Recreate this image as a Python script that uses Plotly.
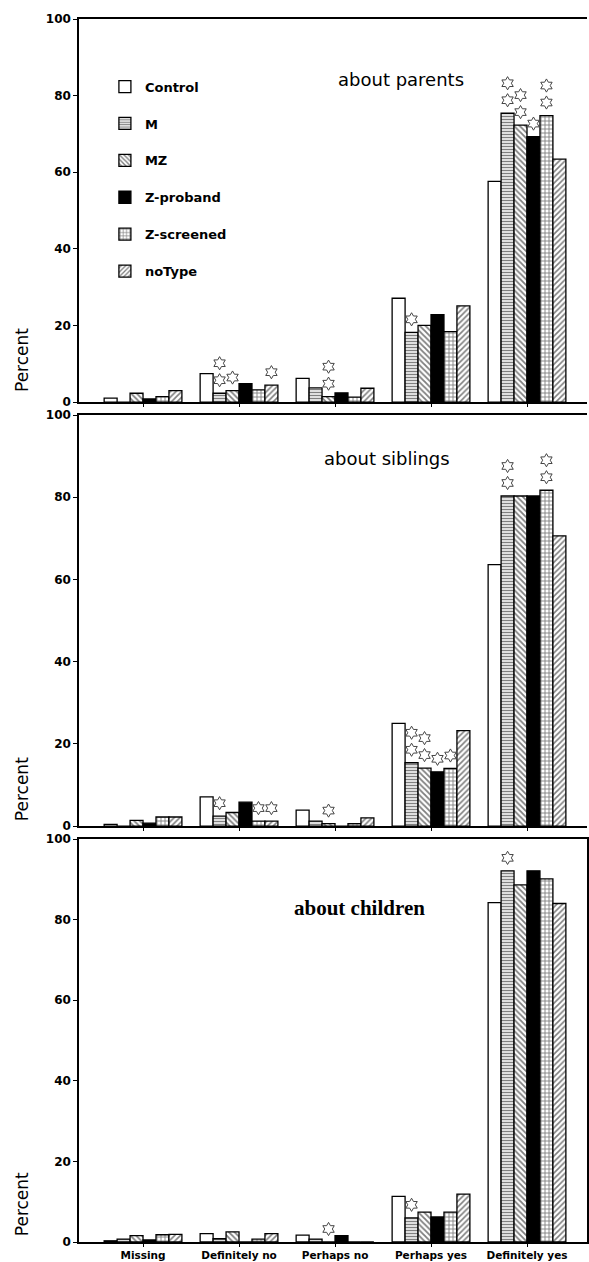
import plotly.graph_objects as go

# ---------------- data ----------------
categories = ["Missing", "Definitely no", "Perhaps no", "Perhaps yes", "Definitely yes"]
series_names = ["Control", "M", "MZ", "Z-proband", "Z-screened", "noType"]
y_tick_vals = [0, 20, 40, 60, 80, 100]
panel_titles = ["about parents", "about siblings", "about children"]

# about parents (percent)
parents_control = [1.0, 7.4, 6.2, 27.1, 57.6]
parents_m = [0.0, 2.3, 3.7, 18.2, 75.4]
parents_mz = [2.3, 3.0, 1.4, 20.0, 72.3]
parents_zproband = [0.8, 4.8, 2.4, 22.8, 69.3]
parents_zscreened = [1.4, 3.2, 1.3, 18.4, 74.8]
parents_notype = [3.0, 4.4, 3.6, 25.1, 63.4]

# about siblings (percent)
siblings_control = [0.4, 7.1, 3.9, 25.0, 63.6]
siblings_m = [0.0, 2.4, 1.2, 15.4, 80.3]
siblings_mz = [1.4, 3.3, 0.6, 14.1, 80.3]
siblings_zproband = [0.7, 5.8, 0.0, 13.2, 80.3]
siblings_zscreened = [2.2, 1.2, 0.6, 14.0, 81.7]
siblings_notype = [2.2, 1.2, 2.0, 23.2, 70.6]

# about children (percent)
children_control = [0.3, 2.1, 1.7, 11.3, 84.2]
children_m = [0.7, 0.8, 0.7, 6.0, 92.1]
children_mz = [1.6, 2.5, 0.0, 7.4, 88.6]
children_zproband = [0.5, 0.0, 1.6, 6.2, 92.1]
children_zscreened = [1.8, 0.7, 0.0, 7.4, 90.1]
children_notype = [1.9, 2.1, 0.0, 11.9, 84.0]

# number of significance stars above each bar (series order x category)
parents_stars = [[0, 0, 0, 0, 0], [0, 2, 0, 1, 2], [0, 1, 2, 0, 2],
                 [0, 0, 0, 0, 1], [0, 0, 0, 0, 2], [0, 1, 0, 0, 0]]
siblings_stars = [[0, 0, 0, 0, 0], [0, 1, 0, 2, 2], [0, 0, 1, 2, 0],
                  [0, 0, 0, 1, 0], [0, 1, 0, 1, 2], [0, 1, 0, 0, 0]]
children_stars = [[0, 0, 0, 0, 0], [0, 0, 0, 1, 1], [0, 0, 1, 0, 0],
                  [0, 0, 0, 0, 0], [0, 0, 0, 0, 0], [0, 0, 0, 0, 0]]

panels = [
    [parents_control, parents_m, parents_mz, parents_zproband, parents_zscreened, parents_notype],
    [siblings_control, siblings_m, siblings_mz, siblings_zproband, siblings_zscreened, siblings_notype],
    [children_control, children_m, children_mz, children_zproband, children_zscreened, children_notype],
]
panel_stars = [parents_stars, siblings_stars, children_stars]

# ---------------- styling ----------------
SANS = "DejaVu Sans, Liberation Sans, Arial, sans-serif"
SERIF = "Liberation Serif, Times New Roman, serif"
W, H = 589, 1262
M_L, M_R, M_T, M_B = 79, 2, 19, 20
PLOT_H = H - M_T - M_B
domains = [[0.6868, 1.0], [0.3401, 0.6762], [0.0, 0.3295]]
BARGAP = 0.19

styles = [
    dict(color="white", marker_pattern=None),
    dict(color="white", marker_pattern=dict(shape="-", fgcolor="black", bgcolor="white", size=3, solidity=0.5)),
    dict(color="white", marker_pattern=dict(shape="\\", fgcolor="black", bgcolor="white", size=4, solidity=0.45)),
    dict(color="black", marker_pattern=None),
    dict(color="white", marker_pattern=dict(shape="+", fgcolor="black", bgcolor="white", size=4, solidity=0.4)),
    dict(color="white", marker_pattern=dict(shape="/", fgcolor="black", bgcolor="white", size=4, solidity=0.4)),
]

fig = go.Figure()
xidx = list(range(len(categories)))
n_series = len(series_names)
bar_w = (1 - BARGAP) / n_series

for p, data in enumerate(panels):
    xa = "x" if p == 0 else f"x{p + 1}"
    ya = "y" if p == 0 else f"y{p + 1}"
    for s, name in enumerate(series_names):
        st = styles[s]
        marker = dict(color=st["color"], line=dict(color="black", width=1.3))
        if st["marker_pattern"] is not None:
            marker["pattern"] = st["marker_pattern"]
        fig.add_trace(go.Bar(
            x=xidx, y=data[s], name=name, marker=marker,
            xaxis=xa, yaxis=ya, legendgroup=name, showlegend=(p == 0),
            hovertext=[f"{name} – {c}" for c in categories],
        ))
    # significance stars, stacked above their bars
    ppu = (domains[p][1] - domains[p][0]) * PLOT_H / 100.0
    sx, sy = [], []
    for s in range(n_series):
        for c in range(len(categories)):
            for k in range(panel_stars[p][s][c]):
                sx.append(c - (1 - BARGAP) / 2 + bar_w * (s + 0.5))
                sy.append(data[s][c] + (13 + 17 * k) / ppu)
    if sx:
        fig.add_trace(go.Scatter(
            x=sx, y=sy, mode="markers", xaxis=xa, yaxis=ya, showlegend=False,
            hoverinfo="skip",
            marker=dict(symbol="hexagram-open", size=10, color="#444",
                        line=dict(width=1, color="#444")),
        ))

layout = dict(
    width=W, height=H,
    margin=dict(l=M_L, r=M_R, t=M_T, b=M_B, autoexpand=False),
    paper_bgcolor="white", plot_bgcolor="white",
    barmode="group", bargap=BARGAP, bargroupgap=0,
    font=dict(family=SANS, color="black"),
    legend=dict(x=0.051, y=0.957, xanchor="left", yanchor="top",
                font=dict(family=SANS, size=13, weight="bold"), tracegroupgap=17,
                bgcolor="rgba(0,0,0,0)"),
)

for p in range(3):
    xk = "xaxis" if p == 0 else f"xaxis{p + 1}"
    yk = "yaxis" if p == 0 else f"yaxis{p + 1}"
    ya = "y" if p == 0 else f"y{p + 1}"
    xa = "x" if p == 0 else f"x{p + 1}"
    layout[xk] = dict(
        domain=[0, 1], anchor=ya, range=[-0.667, 4.625],
        tickvals=xidx, ticktext=categories,
        showticklabels=(p == 2), automargin=False,
        tickfont=dict(family=SANS, size=10.5, weight="bold"),
        ticks="outside", ticklen=3, tickwidth=1.3, tickcolor="black",
        showline=True, linecolor="black", linewidth=1.5, mirror=True,
        showgrid=False, zeroline=False, fixedrange=True,
    )
    layout[yk] = dict(
        domain=domains[p], anchor=xa, range=[0, 100], automargin=False,
        tickvals=y_tick_vals, tickfont=dict(family=SANS, size=12, weight="bold"),
        ticks="outside", ticklen=4, tickwidth=1.3, tickcolor="black",
        showline=True, linecolor="black", linewidth=1.5, mirror=(p == 2),
        showgrid=False, zeroline=False, fixedrange=True,
    )

fig.update_layout(**layout)

title_pos = [(2.69, 84.1), (2.54, 89.3), (2.26, 82.9)]
title_fonts = [
    dict(family=SANS, size=18, color="black"),
    dict(family=SANS, size=18, color="black"),
    dict(family=SERIF, size=21, color="black", weight="bold"),
]
percent_y = [0.11, 0.09, 0.094]
for p in range(3):
    xa = "x" if p == 0 else f"x{p + 1}"
    ya = "y" if p == 0 else f"y{p + 1}"
    fig.add_annotation(x=title_pos[p][0], y=title_pos[p][1], xref=xa, yref=ya,
                       text=panel_titles[p], showarrow=False, font=title_fonts[p],
                       xanchor="center", yanchor="middle")
    fig.add_annotation(x=-0.112, y=percent_y[p], xref="paper", yref=f"{ya} domain",
                       text="Percent", textangle=-90, showarrow=False,
                       font=dict(family=SANS, size=17, color="black"),
                       xanchor="center", yanchor="middle")

# remove the browser's default 8px page margin so the 589x1262 figure fills the window
fig.write_html("out.html", config={"displayModeBar": False},
               post_script="document.body.style.margin='0';")
